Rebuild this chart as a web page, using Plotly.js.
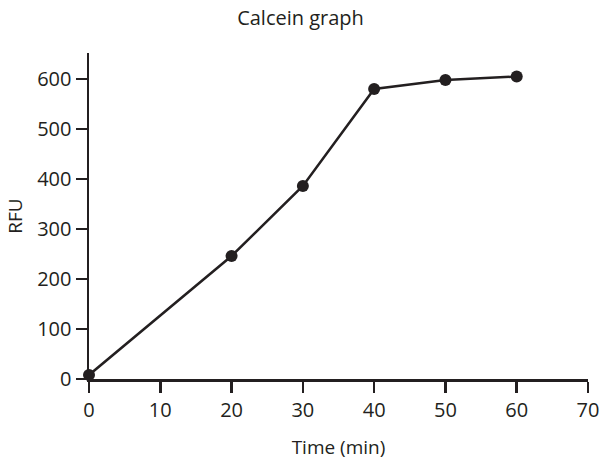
<!DOCTYPE html>
<html>
<head>
<meta charset="utf-8">
<script src="https://cdn.plot.ly/plotly-3.0.1.min.js"></script>
<style>html,body{margin:0;padding:0;background:#fff;}#chart{width:601px;height:460px;}</style>
</head>
<body>
<div id="chart"></div>
<script>
const timeMin = [0, 20, 30, 40, 50, 60];
const rfu = [8, 246, 386, 580, 598, 605];
const xTicks = [0, 10, 20, 30, 40, 50, 60, 70];
const yTicks = [0, 100, 200, 300, 400, 500, 600];
const ink = '#231f20';
const font = 'Open Sans, Noto Sans, sans-serif';

Plotly.newPlot('chart', [{
  x: timeMin, y: rfu, type: 'scatter', mode: 'lines+markers',
  line: {color: ink, width: 2.5},
  marker: {color: ink, size: 12},
  cliponaxis: false, showlegend: false
}], {
  width: 601, height: 460,
  margin: {l: 88.5, r: 13, t: 53, b: 81, pad: 0},
  paper_bgcolor: '#fff', plot_bgcolor: '#fff',
  font: {family: font, color: ink, size: 19},
  title: {text: 'Calcein graph', font: {size: 20, color: ink}, x: 0.5, xanchor: 'center', y: 0.96, yanchor: 'middle'},
  xaxis: {
    range: [0, 70], tickvals: xTicks, ticktext: xTicks.map(String),
    showgrid: false, zeroline: false, showline: true, linecolor: ink, linewidth: 2.5,
    ticks: 'outside', ticklen: 11, tickwidth: 2.5, tickcolor: ink,
    tickfont: {size: 20, color: ink},
    title: {text: 'Time (min)', font: {size: 19, color: ink}, standoff: 20}
  },
  yaxis: {
    range: [0, 652], tickvals: yTicks, ticktext: yTicks.map(String),
    showgrid: false, zeroline: false, showline: true, linecolor: ink, linewidth: 2.5,
    ticks: 'outside', ticklen: 11, tickwidth: 2.5, tickcolor: ink,
    tickfont: {size: 20, color: ink},
    title: {text: 'RFU', font: {size: 19, color: ink}, standoff: 10}
  }
}, {displayModeBar: false, staticPlot: true});
</script>
</body>
</html>
